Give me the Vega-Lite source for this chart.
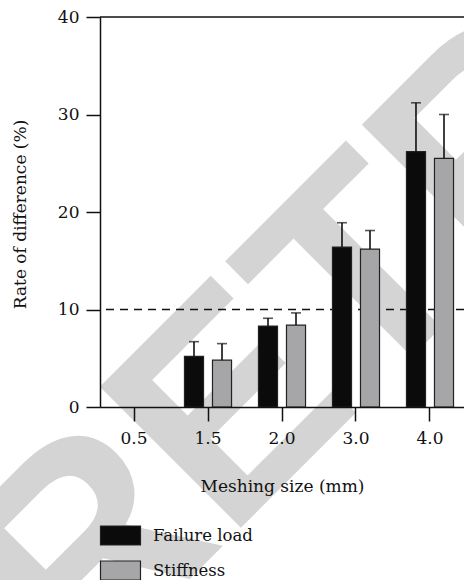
{
  "$schema": "https://vega.github.io/schema/vega-lite/v6.json",
  "width": 364,
  "height": 390,
  "autosize": {"type": "none"},
  "padding": {"left": 100, "top": 17, "right": 0, "bottom": 173},
  "config": {
    "font": "DejaVu Serif",
    "view": {"stroke": null},
    "axis": {"labelFont": "DejaVu Serif", "titleFont": "DejaVu Serif"},
    "legend": {"labelFont": "DejaVu Serif"}
  },
  "data": {"values": [
    {"size": "1.5", "measure": "Failure load", "value": 5.2, "upper": 6.7},
    {"size": "1.5", "measure": "Stiffness", "value": 4.8, "upper": 6.5},
    {"size": "2.0", "measure": "Failure load", "value": 8.3, "upper": 9.1},
    {"size": "2.0", "measure": "Stiffness", "value": 8.4, "upper": 9.65},
    {"size": "3.0", "measure": "Failure load", "value": 16.4, "upper": 18.9},
    {"size": "3.0", "measure": "Stiffness", "value": 16.2, "upper": 18.1},
    {"size": "4.0", "measure": "Failure load", "value": 26.2, "upper": 31.2},
    {"size": "4.0", "measure": "Stiffness", "value": 25.5, "upper": 30.0}
  ]},
  "layer": [
    {
      "data": {"values": [{"pos": -8.17, "label": "RETRACTED"}]},
      "mark": {"type": "text", "font": "Liberation Sans", "fontWeight": "bold", "fontSize": 290, "color": "#d4d4d4", "angle": -45, "align": "left", "baseline": "alphabetic", "dx": -287},
      "encoding": {
        "y": {"field": "pos", "type": "quantitative"},
        "text": {"field": "label"}
      }
    },
    {
      "data": {"values": [{"ref": 10}]},
      "mark": {"type": "rule", "color": "#111", "strokeWidth": 1.3, "strokeDash": [8, 6]},
      "encoding": {"y": {"field": "ref", "type": "quantitative"}}
    },
    {
      "data": {"values": [{"ref": 40}]},
      "mark": {"type": "rule", "color": "#111", "strokeWidth": 1.5},
      "encoding": {"y": {"field": "ref", "type": "quantitative"}}
    },
    {
      "mark": {"type": "bar", "stroke": "#222", "strokeWidth": 1.2},
      "encoding": {
        "x": {
          "field": "size", "type": "nominal",
          "scale": {"domain": ["0.5", "1.5", "2.0", "3.0", "4.0"], "paddingInner": 0.364, "paddingOuter": 0.1416},
          "axis": {
            "title": "Meshing size (mm)", "labelAngle": 0, "labelFontSize": 17, "labelColor": "#111",
            "labelFont": "DejaVu Serif", "titleFont": "DejaVu Serif",
            "labelPadding": 9, "tickSize": 14, "tickWidth": 1.5, "tickColor": "#111",
            "domainColor": "#111", "domainWidth": 1.5, "titleFontSize": 17, "titleFontWeight": "normal",
            "titleColor": "#111", "titleY": 84, "titleBaseline": "alphabetic", "zindex": 1
          }
        },
        "xOffset": {"field": "measure", "type": "nominal", "scale": {"domain": ["Failure load", "Stiffness"], "paddingInner": 0.32, "paddingOuter": 0}},
        "y": {
          "field": "value", "type": "quantitative",
          "scale": {"domain": [0, 40]},
          "axis": {
            "title": "Rate of difference (%)", "values": [0, 10, 20, 30, 40], "grid": false,
            "labelFont": "DejaVu Serif", "titleFont": "DejaVu Serif",
            "labelFontSize": 17, "labelColor": "#111", "labelPadding": 7, "tickSize": 14, "tickWidth": 1.5,
            "tickColor": "#111", "domainColor": "#111", "domainWidth": 1.5, "titleFontSize": 17,
            "titleFontWeight": "normal", "titleColor": "#111", "titleX": -75, "titleY": 197,
            "titleBaseline": "alphabetic", "titleAlign": "center", "zindex": 1
          }
        },
        "color": {
          "field": "measure", "type": "nominal",
          "scale": {"domain": ["Failure load", "Stiffness"], "range": ["#0b0b0b", "#a6a5a8"]},
          "legend": {
            "orient": "none", "legendX": 9.5, "legendY": 507.5, "title": null,
            "symbolType": "M-2,-0.95L2,-0.95L2,0.95L-2,0.95Z", "symbolSize": 400,
            "symbolStrokeWidth": 1.2, "symbolStrokeColor": "#222", "symbolOpacity": 1,
            "labelFont": "DejaVu Serif",
            "labelFontSize": 16.5, "labelColor": "#111", "labelOffset": 21.5, "rowPadding": 11, "padding": 0
          }
        }
      }
    },
    {
      "mark": {"type": "rule", "color": "#111", "strokeWidth": 1.6},
      "encoding": {
        "x": {"field": "size", "type": "nominal"},
        "xOffset": {"field": "measure", "type": "nominal"},
        "y": {"field": "value", "type": "quantitative"},
        "y2": {"field": "upper"}
      }
    },
    {
      "mark": {"type": "tick", "color": "#111", "thickness": 1.6, "size": 10, "orient": "horizontal"},
      "encoding": {
        "x": {"field": "size", "type": "nominal"},
        "xOffset": {"field": "measure", "type": "nominal"},
        "y": {"field": "upper", "type": "quantitative"}
      }
    }
  ]
}
